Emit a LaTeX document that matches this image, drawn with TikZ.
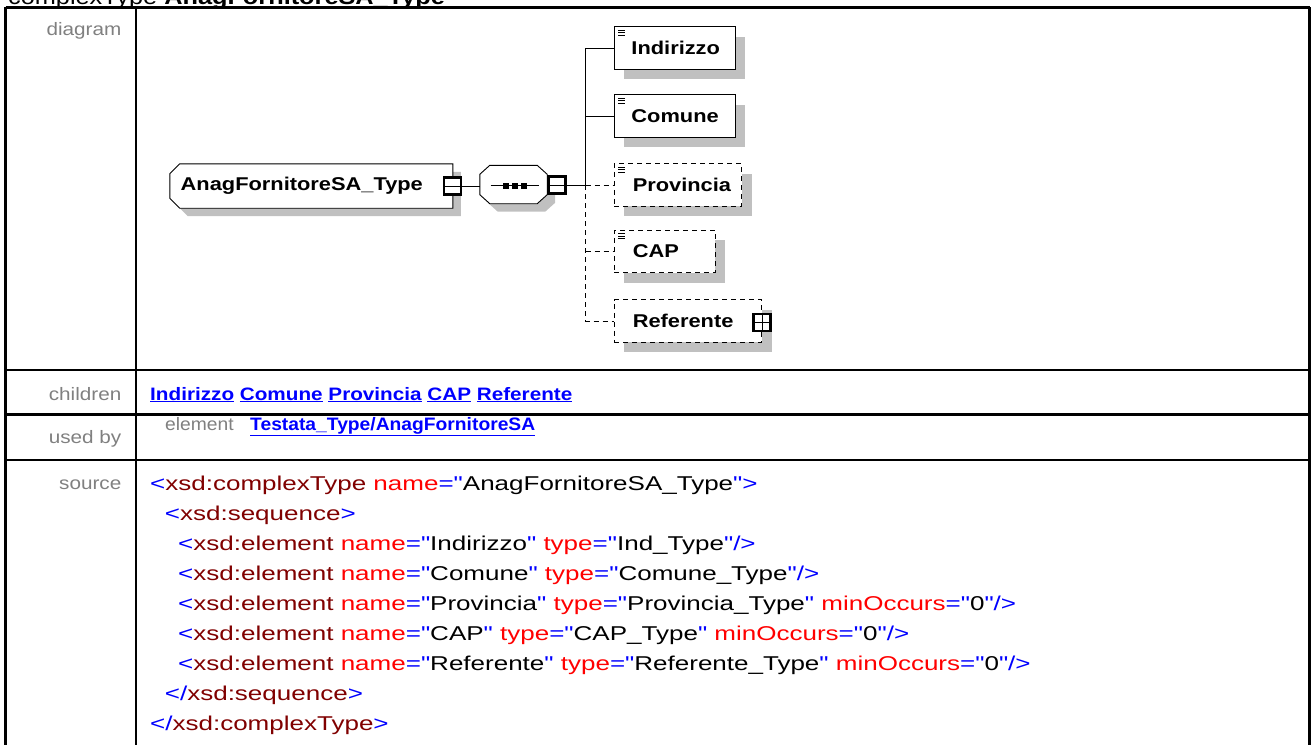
\documentclass[tikz,border=0pt]{standalone}
\usepackage{fontspec}
\setmainfont{Liberation Sans}
\newfontfamily\srcfont[FakeStretch=1.3]{Liberation Sans}
\newfontfamily\wfont[FakeStretch=1.15]{Liberation Sans}
\newfontfamily\ufont[FakeStretch=1.07]{Liberation Sans}
\newfontfamily\bxfont[FakeStretch=1.18]{Liberation Sans}
\usetikzlibrary{shadows}

\definecolor{shadowgray}{HTML}{C0C0C0}
\definecolor{lblgray}{HTML}{808080}
\definecolor{xblue}{HTML}{0000FF}
\definecolor{xtag}{HTML}{800000}
\definecolor{xattr}{HTML}{FF0000}

\newcommand{\xb}[1]{\textcolor{xblue}{#1}}
\newcommand{\xt}[1]{\textcolor{xtag}{#1}}
\newcommand{\xn}[1]{\textcolor{xattr}{#1}}

\begin{document}
\begin{tikzpicture}
[x=1pt,y=-1pt,line join=miter,
tableline/.style={line width=2.6pt},
rowlbl/.style={anchor=base east,inner sep=0pt,text=lblgray,font=\wfont\fontsize{18}{20}\selectfont},
link/.style={anchor=base west,inner sep=0pt,text=xblue,font=\wfont\bfseries\fontsize{18}{20}\selectfont},
srcline/.style={anchor=base west,inner sep=0pt,font=\srcfont\fontsize{20}{24}\selectfont},
conn/.style={line width=0.9pt},
optline/.style={conn,dash pattern=on 5pt off 4pt},
boxtxt/.style={anchor=west,inner sep=0pt,font=\bxfont\bfseries\fontsize{18.5}{20}\selectfont},
frame/.style={rectangle,inner sep=0pt},
boxshadow/.style={fill=shadowgray,transform canvas={shift={(8pt,-8pt)}}},
typeshape/.style={insert path={([xshift=10pt]#1.north west) -- (#1.north east) -- (#1.south east)
  -- ([xshift=10pt]#1.south west) -- ([yshift=10pt]#1.south west) -- ([yshift=-10pt]#1.north west) -- cycle}},
seqshape/.style={insert path={([xshift=10pt]#1.north west) -- ([xshift=-10pt]#1.north east)
  -- ([yshift=-9pt]#1.north east) -- ([yshift=9pt]#1.south east) -- ([xshift=-10pt]#1.south east)
  -- ([xshift=10pt]#1.south west) -- ([yshift=9pt]#1.south west) -- ([yshift=-9pt]#1.north west) -- cycle}},
toggle/.style={draw,line width=2.6pt,fill=white,minimum size=17pt,inner sep=0pt},
minusbox/.style={toggle,path picture={\draw[line width=0.8pt] (path picture bounding box.west) -- (path picture bounding box.east);}},
plusbox/.style={toggle,path picture={\draw[line width=0.8pt] (path picture bounding box.west) -- (path picture bounding box.east)
    (path picture bounding box.north) -- (path picture bounding box.south);}},
elem/.style={draw,fill=white,line width=0.9pt,minimum height=42.5pt,inner sep=0pt,
  general shadow={fill=shadowgray,draw=none,shadow xshift=10pt,shadow yshift=-10pt}},
optelem/.style={elem,dash pattern=on 5pt off 4pt},
leaf/.style={path picture={\foreach \dy in {3.5,6,8.5}
    \draw[solid,line width=0.8pt] ([shift={(4.3,\dy)}]path picture bounding box.north west) -- ++(7,0);}},
]
\useasboundingbox (0,0) rectangle (1311,744);
\clip (0,0) rectangle (1311,744);

%Title (cut at the top)
\node (title) at (8,4.5)[anchor=base west,inner sep=0pt,font=\wfont\fontsize{22}{24}\selectfont] {complexType \textbf{AnagFornitoreSA\_Type}};

%Table rules
\draw[tableline] (5.5,7.3) -- (1309.5,7.3);
\draw[tableline] (5.5,7.3) -- (5.5,750) (136,7.3) -- (136,750) (1309.5,7.3) -- (1309.5,750);
\draw[tableline] (5.5,370) -- (1309.5,370) (5.5,414.7) -- (1309.5,414.7) (5.5,460) -- (1309.5,460);

%Row labels
\node (lbldiag) at (121.5,35.5)[rowlbl] {diagram};
\node (lblkids) at (121.5,400)[rowlbl] {children};
\node (lblused) at (121.5,443.5)[rowlbl] {used by};
\node (lblsrc) at (121.5,489)[rowlbl] {source};

%Diagram: complex type and sequence
\node (typebox) at (311.35,186)[frame,minimum width=282.7pt,minimum height=44pt] {};
\fill[boxshadow,typeshape=typebox];
\draw[conn,fill=white,typeshape=typebox];
\node (typetxt) at (typebox.west)[boxtxt,xshift=10.7pt] {AnagFornitoreSA\_Type};
\node (typeminus) at (452.5,186)[minusbox] {};

\node (seq) at (513.5,184.5)[frame,minimum width=67pt,minimum height=38pt] {};
\fill[boxshadow,seqshape=seq];
\draw[conn,fill=white,seqshape=seq];
\draw[line width=0.8pt] ([shift={(-23,1)}]seq.center) -- ++(48.5,0);
\foreach \dx in {-8,1,10.3}
  \fill ([shift={(\dx,1)}]seq.center) +(-3,-3) rectangle +(3,3);
\node (seqminus) at (557,185)[minusbox] {};
\coordinate (trunk) at (585.5,185);

%Child elements
\node (ind) at (674.5,48)[elem,leaf,minimum width=121pt] {};
\node (indtxt) at (ind.west)[boxtxt,xshift=17.7pt] {Indirizzo};
\node (com) at (674.5,116)[elem,leaf,minimum width=121pt] {};
\node (comtxt) at (com.west)[boxtxt,xshift=17.7pt] {Comune};
\node (prov) at (677.85,185)[optelem,leaf,minimum width=127.7pt] {};
\node (provtxt) at (prov.west)[boxtxt,xshift=19pt] {Provincia};
\node (cap) at (664.5,251.5)[optelem,leaf,minimum width=101pt] {};
\node (captxt) at (cap.west)[boxtxt,xshift=19pt] {CAP};
\node (ref) at (687.85,321)[optelem,minimum width=147.7pt] {};
\node (reftxt) at (ref.west)[boxtxt,xshift=19pt] {Referente};
\node (refplus) at (ref.east)[plusbox,yshift=-1.5pt] {};

%Connectors
\draw[conn] (typeminus.east) -- (typeminus.east -| seq.west);
\draw[conn] (seqminus.east) -- (trunk);
\draw[conn] (trunk) |- (ind.west);
\draw[conn] (trunk) |- (com.west);
\draw[optline] (trunk) -- (prov.west);
\draw[optline] (trunk) |- (ref.west);
\draw[optline] (trunk |- cap.west) -- (cap.west);

%children and used by
\node (kids) at (150,400)[link] {\underline{Indirizzo} \underline{Comune} \underline{Provincia} \underline{CAP} \underline{Referente}};
\node (usedkind) at (165,430)[rowlbl,anchor=base west,font=\ufont\fontsize{18}{20}\selectfont] {element};
\node (usedlink) at (250,430)[link,font=\ufont\bfseries\fontsize{18}{20}\selectfont] {\underline{Testata\_Type/AnagFornitoreSA}};

%Source
\node (src1) at (150,490)[srcline] {\xb{<}\xt{xsd:complexType} \xn{name}\xb{="}AnagFornitoreSA\_Type\xb{">}};
\node (src2) at (164.7,520)[srcline] {\xb{<}\xt{xsd:sequence}\xb{>}};
\node (src3) at (178,550)[srcline] {\xb{<}\xt{xsd:element} \xn{name}\xb{="}Indirizzo\xb{"} \xn{type}\xb{="}Ind\_Type\xb{"/>}};
\node (src4) at (178,580)[srcline] {\xb{<}\xt{xsd:element} \xn{name}\xb{="}Comune\xb{"} \xn{type}\xb{="}Comune\_Type\xb{"/>}};
\node (src5) at (178,610)[srcline] {\xb{<}\xt{xsd:element} \xn{name}\xb{="}Provincia\xb{"} \xn{type}\xb{="}Provincia\_Type\xb{"} \xn{minOccurs}\xb{="}0\xb{"/>}};
\node (src6) at (178,640)[srcline] {\xb{<}\xt{xsd:element} \xn{name}\xb{="}CAP\xb{"} \xn{type}\xb{="}CAP\_Type\xb{"} \xn{minOccurs}\xb{="}0\xb{"/>}};
\node (src7) at (178,670)[srcline] {\xb{<}\xt{xsd:element} \xn{name}\xb{="}Referente\xb{"} \xn{type}\xb{="}Referente\_Type\xb{"} \xn{minOccurs}\xb{="}0\xb{"/>}};
\node (src8) at (164.7,700)[srcline] {\xb{</}\xt{xsd:sequence}\xb{>}};
\node (src9) at (150,730)[srcline] {\xb{</}\xt{xsd:complexType}\xb{>}};

\end{tikzpicture}
\end{document}
